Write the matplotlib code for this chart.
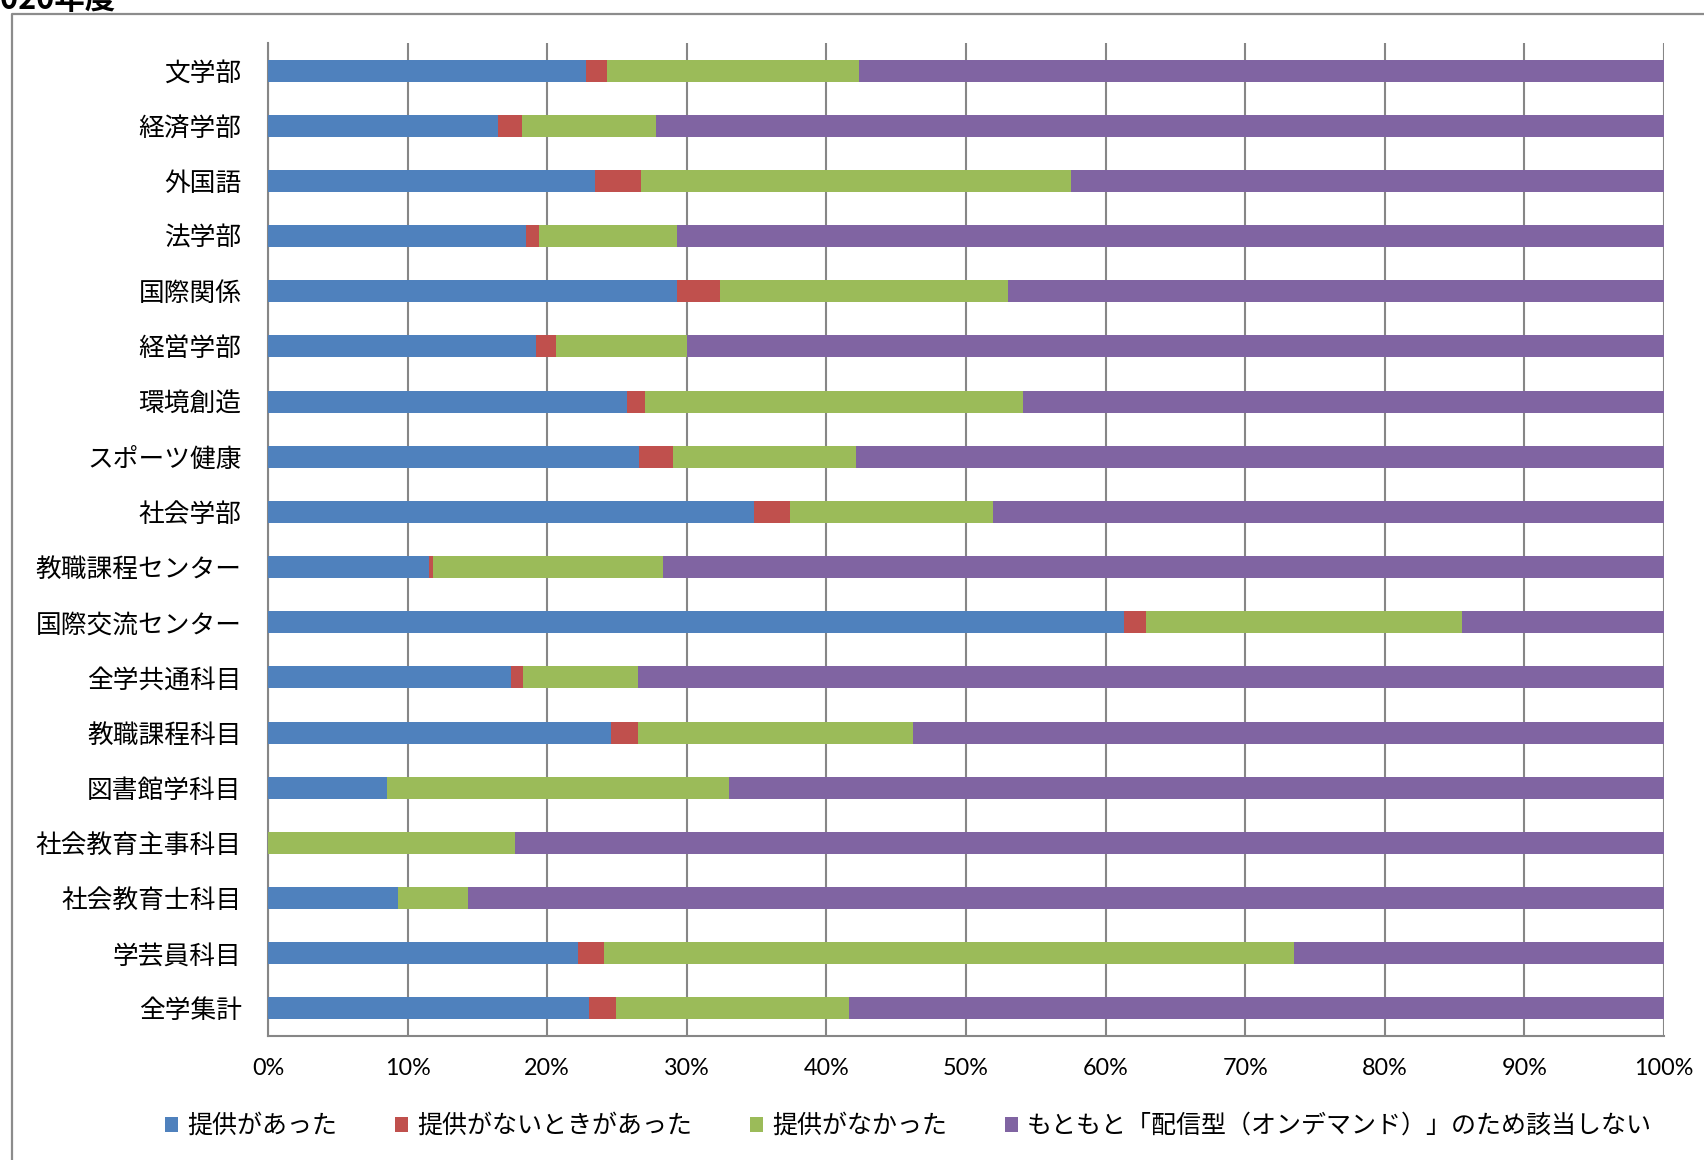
import matplotlib
matplotlib.use("Agg")
import matplotlib.pyplot as plt
from matplotlib.patches import Patch
from matplotlib.lines import Line2D
import numpy as np

plt.rcParams['font.family'] = ['Noto Sans CJK JP', 'DejaVu Sans']

categories = ["文学部", "経済学部", "外国語", "法学部", "国際関係", "経営学部", "環境創造",
              "スポーツ健康", "社会学部", "教職課程センター", "国際交流センター", "全学共通科目",
              "教職課程科目", "図書館学科目", "社会教育主事科目", "社会教育士科目", "学芸員科目", "全学集計"]

provided = [22.8, 16.5, 23.4, 18.5, 29.3, 19.2, 25.7, 26.6, 34.8, 11.5, 61.3, 17.4, 24.6, 8.5, 0.0, 9.3, 22.2, 23.0]
sometimes_not = [1.5, 1.7, 3.3, 0.9, 3.1, 1.4, 1.3, 2.4, 2.6, 0.3, 1.6, 0.9, 1.9, 0.0, 0.0, 0.0, 1.9, 1.9]
not_provided = [18.0, 9.6, 30.8, 9.9, 20.6, 9.4, 27.1, 13.1, 14.5, 16.5, 22.6, 8.2, 19.7, 24.5, 17.7, 5.0, 49.4, 16.7]
not_applicable = [57.7, 72.2, 42.5, 70.7, 47.0, 70.0, 45.9, 57.9, 48.1, 71.7, 14.5, 73.5, 53.8, 67.0, 82.3, 85.7, 26.5, 58.4]

series_names = ["提供があった", "提供がないときがあった", "提供がなかった",
                "もともと「配信型（オンデマンド）」のため該当しない"]
colors = ["#4F81BD", "#C0504D", "#9BBB59", "#8064A2"]
x_ticks = [0, 10, 20, 30, 40, 50, 60, 70, 80, 90, 100]
x_tick_labels = [f"{t}%" for t in x_ticks]
title = "2020年度"

W, H = 1704, 1160
fig = plt.figure(figsize=(W / 100, H / 100), dpi=100)
ax = fig.add_axes([268 / W, 1 - 1036 / H, (1664 - 268) / W, (1036 - 43) / H])

y = np.arange(len(categories))
left = np.zeros(len(categories))
for vals, name, c in zip([provided, sometimes_not, not_provided, not_applicable], series_names, colors):
    v = np.array(vals)
    ax.barh(y, v, left=left, height=0.4, color=c, label=name, zorder=3)
    left += v

ax.set_xlim(0, 100)
ax.set_ylim(len(categories) - 0.5, -0.5)
ax.set_yticks(y)
ax.set_yticklabels(categories, fontsize=18.5)
ax.set_xticks(x_ticks)
ax.set_xticklabels(x_tick_labels, fontsize=16.8, family=['Lato', 'DejaVu Sans'])
ax.tick_params(axis='y', length=0, pad=19)
ax.tick_params(axis='x', length=0, pad=16)
ax.grid(axis='x', color='#868686', linewidth=1.5, zorder=0)
for s in ['top', 'right']:
    ax.spines[s].set_visible(False)
for s in ['left', 'bottom']:
    ax.spines[s].set_color('#868686')
    ax.spines[s].set_linewidth(1.5)

# outer chart border
fig.add_artist(Line2D([12 / W, 12 / W, 1.0], [0.0, 1 - 14 / H, 1 - 14 / H],
                      transform=fig.transFigure, color='#8c8c8c', linewidth=1.6))

fig.text(-17 / W, 1 - 9 / H, title, fontsize=22, fontweight='bold', ha='left', va='baseline',
         family=['Noto Sans CJK JP'])

handles = [Patch(facecolor=c, edgecolor='none') for c in colors]
fig.legend(handles, series_names, loc='center left', bbox_to_anchor=(142 / W, 1 - 1126 / H),
           ncol=4, frameon=False, fontsize=18, handlelength=0.55, handleheight=0.55,
           handletextpad=0.35, columnspacing=2.3)

fig.savefig("out.png", dpi=100)
